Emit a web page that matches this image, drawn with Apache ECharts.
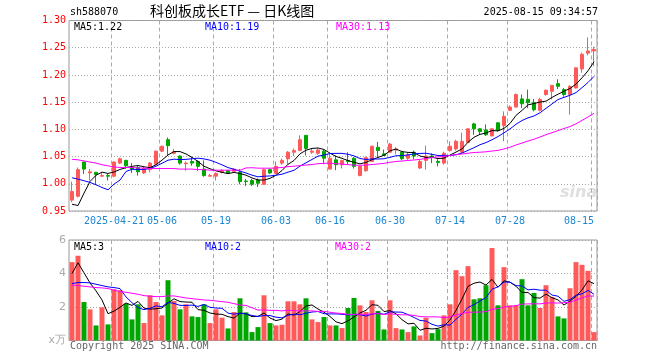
<!DOCTYPE html>
<html><head><meta charset="utf-8">
<script src="https://cdn.jsdelivr.net/npm/echarts@6/dist/echarts.min.js"></script>
<style>html,body{margin:0;padding:0;background:#fff}#c{width:660px;height:360px}</style>
</head><body><div id="c"></div>
<script>
const dates = ['2025-04-10','2025-04-11','2025-04-14','2025-04-15','2025-04-16','2025-04-17','2025-04-18','2025-04-21','2025-04-22','2025-04-23','2025-04-24','2025-04-25','2025-04-28','2025-04-29','2025-04-30',
'2025-05-06','2025-05-07','2025-05-08','2025-05-09','2025-05-12','2025-05-13','2025-05-14','2025-05-15','2025-05-16','2025-05-19','2025-05-20','2025-05-21','2025-05-22','2025-05-23','2025-05-26','2025-05-27','2025-05-28','2025-05-29','2025-05-30',
'2025-06-03','2025-06-04','2025-06-05','2025-06-06','2025-06-09','2025-06-10','2025-06-11','2025-06-12','2025-06-13','2025-06-16','2025-06-17','2025-06-18','2025-06-19','2025-06-20','2025-06-23','2025-06-24','2025-06-25','2025-06-26','2025-06-27','2025-06-30',
'2025-07-01','2025-07-02','2025-07-03','2025-07-04','2025-07-07','2025-07-08','2025-07-09','2025-07-10','2025-07-11','2025-07-14','2025-07-15','2025-07-16','2025-07-17','2025-07-18','2025-07-21','2025-07-22','2025-07-23','2025-07-24','2025-07-25','2025-07-28','2025-07-29','2025-07-30','2025-07-31',
'2025-08-01','2025-08-04','2025-08-05','2025-08-06','2025-08-07','2025-08-08','2025-08-11','2025-08-12','2025-08-13','2025-08-14','2025-08-15'];

const openP = [0.970,0.977,1.040,1.020,1.021,1.014,1.015,1.014,1.038,1.043,1.030,1.030,1.020,1.026,1.036,1.060,1.081,1.056,1.051,1.037,1.041,1.041,1.027,1.014,1.014,1.021,1.024,1.023,1.021,1.005,
1.006,1.007,0.999,1.026,1.019,1.038,1.046,1.058,1.061,1.089,1.058,1.056,1.060,1.027,1.044,1.035,1.043,1.047,1.015,1.024,1.041,1.067,1.055,1.058,1.062,1.058,1.047,1.058,1.029,1.043,
1.051,1.041,1.038,1.061,1.064,1.058,1.076,1.110,1.101,1.099,1.088,1.112,1.107,1.135,1.141,1.156,1.155,1.149,1.135,1.164,1.170,1.184,1.173,1.164,1.176,1.211,1.240,1.244];
const closeP = [0.986,1.026,1.027,1.022,1.017,1.015,1.014,1.040,1.046,1.033,1.027,1.022,1.028,1.038,1.060,1.069,1.070,1.059,1.038,1.038,1.038,1.032,1.015,1.015,1.019,1.024,1.020,1.027,1.004,1.004,
0.999,1.001,1.026,1.020,1.032,1.043,1.058,1.061,1.081,1.065,1.060,1.062,1.047,1.047,1.035,1.043,1.041,1.032,1.032,1.048,1.069,1.061,1.052,1.073,1.064,1.046,1.053,1.051,1.041,1.051,
1.049,1.039,1.056,1.069,1.078,1.078,1.101,1.101,1.096,1.090,1.101,1.098,1.124,1.141,1.164,1.147,1.149,1.136,1.155,1.172,1.181,1.179,1.164,1.179,1.213,1.238,1.244,1.247];
const lowP = [0.966,0.975,1.018,1.006,0.998,1.013,1.006,1.012,1.036,1.028,1.020,1.015,1.018,1.021,1.035,1.058,1.053,1.054,1.035,1.024,1.033,1.024,1.013,1.014,1.006,1.019,1.018,1.022,0.999,0.996,
0.996,0.994,0.998,1.018,1.018,1.035,1.035,1.051,1.060,1.052,1.055,1.053,1.036,1.026,1.025,1.028,1.035,1.028,1.014,1.022,1.040,1.049,1.051,1.057,1.054,1.043,1.044,1.045,1.027,1.026,
1.038,1.032,1.035,1.059,1.061,1.056,1.075,1.090,1.090,1.088,1.087,1.096,1.078,1.134,1.140,1.139,1.139,1.133,1.133,1.162,1.155,1.174,1.160,1.127,1.175,1.204,1.236,1.216];
const highP = [1.004,1.030,1.041,1.027,1.022,1.021,1.018,1.041,1.048,1.044,1.038,1.033,1.033,1.040,1.061,1.070,1.085,1.064,1.052,1.041,1.049,1.043,1.043,1.018,1.021,1.027,1.026,1.029,1.027,1.009,
1.009,1.010,1.028,1.028,1.041,1.046,1.060,1.065,1.089,1.089,1.065,1.065,1.062,1.055,1.052,1.044,1.058,1.049,1.033,1.050,1.070,1.077,1.063,1.075,1.067,1.059,1.057,1.061,1.044,1.070,
1.056,1.045,1.059,1.078,1.081,1.094,1.102,1.112,1.102,1.109,1.102,1.113,1.133,1.144,1.166,1.164,1.173,1.156,1.158,1.173,1.181,1.192,1.176,1.181,1.214,1.241,1.269,1.252];
const volume = [4.68,5.06,2.3,1.86,0.9,1.98,0.96,3.06,3.0,2.2,1.26,2.16,1.04,2.7,2.3,1.5,3.6,2.36,1.86,2.16,1.44,1.4,2.16,1.04,1.86,1.36,0.72,1.7,2.52,1.68,
0.5,0.8,2.7,1.04,0.9,0.94,2.34,2.34,2.16,2.52,1.26,1.1,1.4,0.9,0.9,0.74,1.94,2.54,2.1,1.7,2.4,1.76,0.66,2.4,0.74,0.66,0.5,0.84,0.3,1.36,
0.44,0.68,1.5,2.16,4.2,3.84,4.44,2.46,2.52,3.3,5.52,2.1,4.38,2.1,2.1,3.66,2.1,2.84,1.94,3.3,2.6,1.44,1.32,3.12,4.68,4.52,4.16,0.5];

const ma5Head = [0.9625,0.960,0.9828,1.0042];
const ma10Head = [1.0111,1.0086,1.0056,1.0025,0.9982,0.9932,0.9889,0.9994,1.0068];
const ma30Head = [1.045,1.044,1.042,1.040,1.038,1.035,1.033,1.031,1.030,1.030,1.030,1.029,1.029,1.028,1.028,1.028,1.028,1.028,1.027,1.027,1.027,1.026,1.026,1.025,1.025,1.025,1.025,1.025,1.025];
const vma5Head = [4.0,4.64,4.04,3.44];
const vma10Head = [3.4,3.46,3.46,3.44,3.36,3.28,3.2,3.16,3.1];
const vma30Head = [3.3,3.28,3.24,3.2,3.16,3.14,3.1,3.0,2.92,2.88,2.82,2.76,2.68,2.64,2.62,2.62,2.66,2.66,2.6,2.54,2.5,2.46,2.42,2.4,2.36,2.32,2.28,2.2,2.12];

const tickDates = ['2025-04-21','2025-05-06','2025-05-19','2025-06-03','2025-06-16','2025-06-30','2025-07-14','2025-07-28','2025-08-15'];
const tickLabels = ['2025-04-21','05-06','05-19','06-03','06-16','06-30','07-14','07-28','08-15'];
const priceLegend = ['MA5:1.22','MA10:1.19','MA30:1.13'];
const volLegend = ['MA5:3','MA10:2','MA30:2'];
const titleCode = 'sh588070';
const titleName = '科创板成长ETF — 日K线图';
const titleTime = '2025-08-15 09:34:57';

function movingAvg(src, n, head) {
  return src.map((v, i) => {
    if (i < n - 1) return head[i];
    let s = 0;
    for (let k = i - n + 1; k <= i; k++) s += src[k];
    return +(s / n).toFixed(4);
  });
}

const UP = '#ff5a5a', DOWN = '#00a600';
const MONO = '"DejaVu Sans Mono", "Liberation Mono", monospace';
const F10 = '10px ' + MONO;
const kData = dates.map((d, i) => [openP[i], closeP[i], lowP[i], highP[i]]);
const volData = volume.map((v, i) => ({ value: v, itemStyle: { color: closeP[i] >= openP[i] ? UP : DOWN } }));
const tickIdx = new Set(tickDates.map(d => dates.indexOf(d)));

const chart = echarts.init(document.getElementById('c'), null, { renderer: 'canvas' });
const gl = 69, gw = 528;
const lineS = (name, data, color, xi) => ({
  name, type: 'line', data, xAxisIndex: xi, yAxisIndex: xi, showSymbol: false, symbol: 'none',
  lineStyle: { color, width: 1 }, silent: true, z: 5
});
chart.setOption({
  animation: false,
  backgroundColor: '#fff',
  grid: [
    { left: gl, width: gw, top: 20.5, height: 190.5, show: true, borderColor: '#999', borderWidth: 1, backgroundColor: 'transparent' },
    { left: gl, width: gw, top: 240, height: 100.5, show: true, borderColor: '#999', borderWidth: 1, backgroundColor: 'transparent' }
  ],
  xAxis: [
    { type: 'category', gridIndex: 0, data: dates, boundaryGap: true,
      axisLine: { show: false }, axisTick: { show: false },
      axisLabel: { interval: (i) => tickIdx.has(i), formatter: (v) => tickLabels[tickDates.indexOf(v)] || '',
        color: '#1b87d3', fontFamily: MONO, fontSize: 10, margin: 5, alignMaxLabel: 'right' },
      splitLine: { show: true, interval: (i) => tickIdx.has(i), lineStyle: { color: '#aaa', type: [4, 3], width: 1 } } },
    { type: 'category', gridIndex: 1, data: dates, boundaryGap: true,
      axisLine: { show: false }, axisTick: { show: false }, axisLabel: { show: false },
      splitLine: { show: true, interval: (i) => tickIdx.has(i), lineStyle: { color: '#aaa', type: [4, 3], width: 1 } } }
  ],
  yAxis: [
    { type: 'value', gridIndex: 0, min: 0.95, max: 1.30, interval: 0.05, scale: true,
      axisLine: { show: false }, axisTick: { show: false },
      axisLabel: { color: '#f00', fontFamily: MONO, fontSize: 10, margin: 3, formatter: (v) => v.toFixed(2) },
      splitLine: { show: true, lineStyle: { color: '#aaa', type: [1, 2], width: 1 } } },
    { type: 'value', gridIndex: 1, min: 0, max: 6, interval: 2,
      axisLine: { show: false }, axisTick: { show: false },
      axisLabel: { color: '#aaa', fontFamily: 'DejaVu Sans', fontSize: 11, margin: 3, formatter: (v) => v === 0 ? 'x万' : String(v) },
      splitLine: { show: true, lineStyle: { color: '#aaa', type: [1, 2], width: 1 } } }
  ],
  series: [
    { name: 'K', type: 'candlestick', data: kData, xAxisIndex: 0, yAxisIndex: 0, barWidth: 4, silent: true,
      itemStyle: { color: UP, color0: DOWN, borderColor: UP, borderColor0: DOWN, borderWidth: 1 } },
    lineS('MA5', movingAvg(closeP, 5, ma5Head), '#000', 0),
    lineS('MA10', movingAvg(closeP, 10, ma10Head), '#0000ff', 0),
    lineS('MA30', movingAvg(closeP, 30, ma30Head), '#ff00ff', 0),
    { name: 'VOL', type: 'bar', data: volData, xAxisIndex: 1, yAxisIndex: 1, barWidth: 5, silent: true },
    lineS('VMA5', movingAvg(volume, 5, vma5Head), '#000', 1),
    lineS('VMA10', movingAvg(volume, 10, vma10Head), '#0000ff', 1),
    lineS('VMA30', movingAvg(volume, 30, vma30Head), '#ff00ff', 1)
  ],
  graphic: [
    { type: 'text', left: 70, top: 7, style: { text: titleCode, fill: '#000', font: F10 } },
    { type: 'text', left: 150, top: 4, style: { text: titleName, fill: '#000', font: '14px "Noto Sans CJK SC"' } },
    { type: 'text', right: 62, top: 7, style: { text: titleTime, fill: '#000', font: F10 } },
    { type: 'text', left: 74, top: 22, z: 10, style: { text: priceLegend[0], fill: '#000', font: F10 } },
    { type: 'text', left: 205, top: 22, z: 10, style: { text: priceLegend[1], fill: '#0000ff', font: F10 } },
    { type: 'text', left: 336, top: 22, z: 10, style: { text: priceLegend[2], fill: '#ff00ff', font: F10 } },
    { type: 'text', left: 74, top: 242, z: 10, style: { text: volLegend[0], fill: '#000', font: F10 } },
    { type: 'text', left: 205, top: 242, z: 10, style: { text: volLegend[1], fill: '#0000ff', font: F10 } },
    { type: 'text', left: 335, top: 242, z: 10, style: { text: volLegend[2], fill: '#ff00ff', font: F10 } },
    { type: 'text', left: 70, top: 341, style: { text: 'Copyright 2025 SINA.COM', fill: '#666', font: F10 } },
    { type: 'text', right: 63, top: 341, style: { text: 'http://finance.sina.com.cn', fill: '#666', font: F10 } },
    { type: 'text', left: 560, top: 185, z: 1, style: { text: 'sina', fill: 'rgba(175,175,175,0.4)', font: 'italic bold 16px "DejaVu Sans"' } }
  ]
});
</script></body></html>
